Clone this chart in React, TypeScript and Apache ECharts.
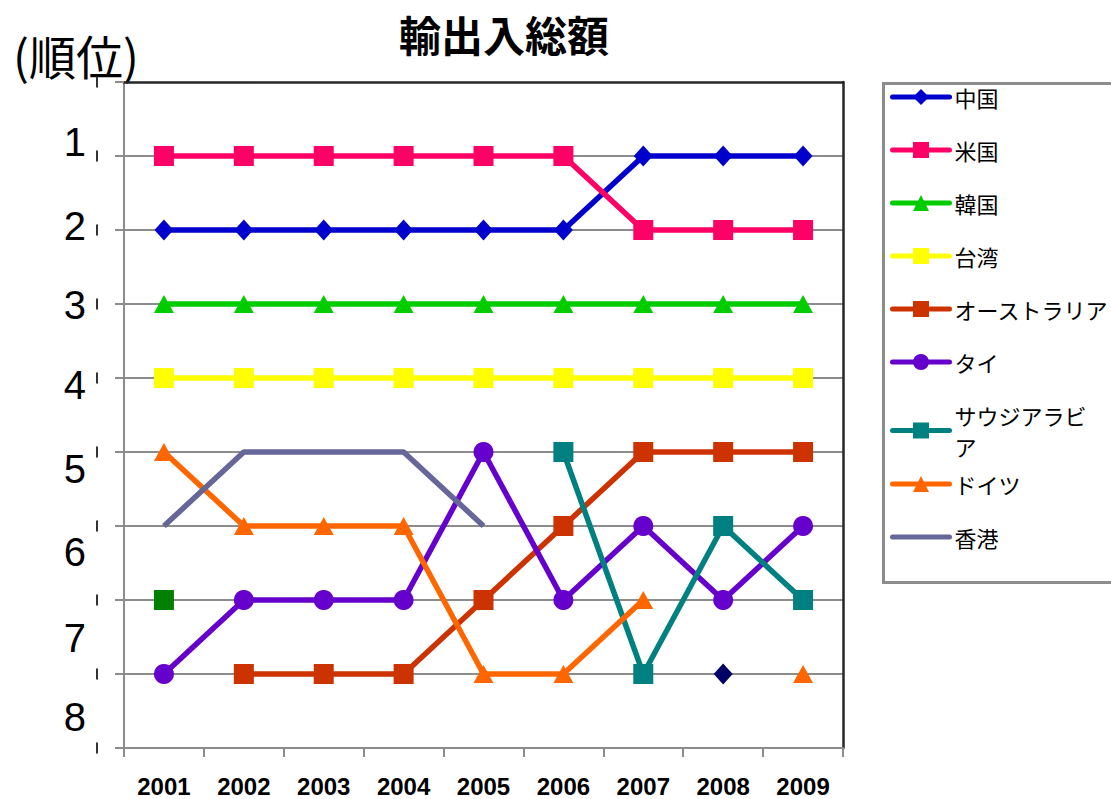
import { useEffect, useRef } from 'react';
import * as echarts from 'echarts';

// Years on the horizontal axis
const years = ['2001', '2002', '2003', '2004', '2005', '2006', '2007', '2008', '2009'];
// Rank labels on the vertical axis
const rankLabels = ['1', '2', '3', '4', '5', '6', '7', '8'];

// Rank per year for each trading partner (null = not ranked that year)
const china = [2, 2, 2, 2, 2, 2, 1, 1, 1];
const usa = [1, 1, 1, 1, 1, 1, 2, 2, 2];
const korea = [3, 3, 3, 3, 3, 3, 3, 3, 3];
const taiwan = [4, 4, 4, 4, 4, 4, 4, 4, 4];
const australia = [null, 8, 8, 8, 7, 6, 5, 5, 5];
const thailand = [8, 7, 7, 7, 5, 7, 6, 7, 6];
const saudiArabia = [null, null, null, null, null, 5, 8, 6, 7];
const germany = [5, 6, 6, 6, 8, 8, 7, null, 8];
const hongKong = [6, 5, 5, 5, 6, null, null, null, null];
// Two stray single points without a legend entry
const greenPoint = [7, null, null, null, null, null, null, null, null];
const navyPoint = [null, null, null, null, null, null, null, 8, null];

// Vertical nudge (px) of each rank label relative to its gridline
const rankLabelShift = [-14, -4, 1, 7, 17, 26, 38, 43];

const FONT_JP = '"Noto Sans CJK JP", "Noto Sans", sans-serif';
const FONT_NUM = '"Liberation Sans", Arial, sans-serif';
const GRAY = '#8c8c8c';
const DARK = '#262626';

type Spec = {
  name: string;
  data: (number | null)[];
  color: string;
  symbol: string;
  size: number | number[];
};

const specs: Spec[] = [
  { name: '中国', data: china, color: '#0000CC', symbol: 'diamond', size: [19, 21] },
  { name: '米国', data: usa, color: '#FF0066', symbol: 'rect', size: 20 },
  { name: '韓国', data: korea, color: '#00CC00', symbol: 'triangle', size: [20, 18] },
  { name: '台湾', data: taiwan, color: '#FFFF00', symbol: 'rect', size: 20 },
  { name: 'オーストラリア', data: australia, color: '#CC3300', symbol: 'rect', size: 20 },
  { name: 'タイ', data: thailand, color: '#6600CC', symbol: 'circle', size: 20 },
  { name: 'サウジアラビア', data: saudiArabia, color: '#008080', symbol: 'rect', size: 20 },
  { name: 'ドイツ', data: germany, color: '#FF6600', symbol: 'triangle', size: [20, 18] },
  { name: '香港', data: hongKong, color: '#666699', symbol: 'none', size: 0 },
  { name: 'greenPoint', data: greenPoint, color: '#008000', symbol: 'rect', size: 20 },
  { name: 'navyPoint', data: navyPoint, color: '#000066', symbol: 'diamond', size: [19, 21] },
];

export default function App() {
  const ref = useRef<HTMLDivElement>(null);

  useEffect(() => {
    if (!ref.current) return;
    const chart = echarts.init(ref.current, undefined, { renderer: 'svg' });

    const rankRich: Record<string, any> = {};
    rankLabels.forEach((_, i) => {
      const s = rankLabelShift[i];
      rankRich['r' + (i + 1)] = {
        fontSize: 40,
        fontFamily: FONT_NUM,
        color: '#000',
        padding: s >= 0 ? [2 * s, 0, 0, 0] : [0, 0, -2 * s, 0],
      };
    });

    const series = specs.map((s) => ({
      type: 'line',
      name: s.name,
      data: s.data,
      symbol: s.symbol,
      symbolSize: s.size,
      showSymbol: s.symbol !== 'none',
      connectNulls: false,
      lineStyle: { color: s.color, width: 5.5 },
      itemStyle: { color: s.color, borderWidth: 0 },
      emphasis: { disabled: true },
    }));

    const legendText = { color: '#000', fontSize: 22, fontFamily: FONT_JP };

    chart.setOption({
      animation: false,
      backgroundColor: '#ffffff',
      grid: {
        left: 124,
        right: 268,
        top: 82,
        bottom: 51,
        show: false,
        containLabel: false,
        outerBoundsMode: 'none',
      },
      xAxis: [
        {
          type: 'category',
          data: years,
          boundaryGap: true,
          position: 'bottom',
          axisLine: { show: true, onZero: false, lineStyle: { color: GRAY, width: 2 } },
          axisTick: { show: true, length: 9, interval: 0, lineStyle: { color: GRAY, width: 2 } },
          axisLabel: {
            interval: 0,
            margin: 28,
            color: '#000',
            fontSize: 24,
            lineHeight: 20,
            fontWeight: 'bold',
            fontFamily: FONT_NUM,
          },
          splitLine: { show: false },
        },
        {
          // dark frame along the top of the plot
          type: 'category',
          data: years,
          position: 'top',
          axisLine: { show: true, onZero: false, lineStyle: { color: DARK, width: 2.5 } },
          axisTick: { show: false },
          axisLabel: { show: false },
          splitLine: { show: false },
        },
      ],
      yAxis: [
        {
          type: 'value',
          min: 0,
          max: 9,
          interval: 1,
          inverse: true,
          position: 'left',
          axisLine: { show: true, onZero: false, lineStyle: { color: GRAY, width: 2 } },
          axisTick: { show: true, length: 9, lineStyle: { color: GRAY, width: 2 } },
          splitLine: {
            show: true,
            showMinLine: false,
            showMaxLine: false,
            lineStyle: { color: GRAY, width: 2 },
          },
          axisLabel: {
            margin: 26,
            formatter: () => '{m| }',
            rich: { m: { width: 2, height: 11, backgroundColor: '#333' } },
          },
        },
        {
          type: 'value',
          min: 0,
          max: 9,
          interval: 1,
          inverse: true,
          position: 'left',
          axisLine: { show: false },
          axisTick: { show: false },
          splitLine: { show: false },
          axisLabel: {
            margin: 38,
            formatter: (v: number) => {
              const i = Math.round(v);
              if (i < 1 || i > rankLabels.length) return '';
              return `{r${i}|${rankLabels[i - 1]}}`;
            },
            rich: rankRich,
          },
        },
        {
          // dark frame along the right of the plot
          type: 'value',
          min: 0,
          max: 9,
          interval: 1,
          inverse: true,
          position: 'right',
          axisLine: { show: true, onZero: false, lineStyle: { color: DARK, width: 2.5 } },
          axisTick: { show: false },
          axisLabel: { show: false },
          splitLine: { show: false },
        },
      ],
      legend: [
        {
          orient: 'vertical',
          left: 883,
          top: 83,
          padding: [3, 0, 0, 7],
          itemWidth: 57,
          itemHeight: 20,
          itemGap: 31,
          selectedMode: false,
          textStyle: legendText,
          lineStyle: { width: 5, cap: 'round' },
          data: [
            '中国',
            '米国',
            '韓国',
            '台湾',
            'オーストラリア',
            'タイ',
            {
              name: 'サウジアラビア',
              textStyle: { width: 140, overflow: 'breakAll', lineHeight: 31, height: 31 },
            },
          ],
        },
        {
          orient: 'vertical',
          left: 883,
          top: 473,
          padding: [0, 0, 0, 7],
          itemWidth: 57,
          itemHeight: 20,
          itemGap: 31,
          selectedMode: false,
          textStyle: legendText,
          lineStyle: { width: 5, cap: 'round' },
          data: ['ドイツ', { name: '香港', itemStyle: { opacity: 0 } }],
        },
      ],
      graphic: [
        {
          type: 'text',
          x: 504,
          y: 33,
          style: {
            text: '輸出入総額',
            align: 'center',
            verticalAlign: 'middle',
            fill: '#000',
            font: `bold 42px ${FONT_JP}`,
          },
        },
        {
          type: 'text',
          x: 13,
          y: 54,
          style: {
            text: '(順位)',
            align: 'left',
            verticalAlign: 'middle',
            fill: '#000',
            font: `47px ${FONT_JP}`,
          },
        },
        {
          type: 'rect',
          shape: { x: 883.5, y: 83.5, width: 260, height: 499 },
          style: { fill: 'none', stroke: GRAY, lineWidth: 3 },
          silent: true,
        },
      ],
      series,
    });

    return () => chart.dispose();
  }, []);

  return (
    <div
      ref={ref}
      style={{ position: 'absolute', left: 0, top: 0, width: 1111, height: 799 }}
    />
  );
}
